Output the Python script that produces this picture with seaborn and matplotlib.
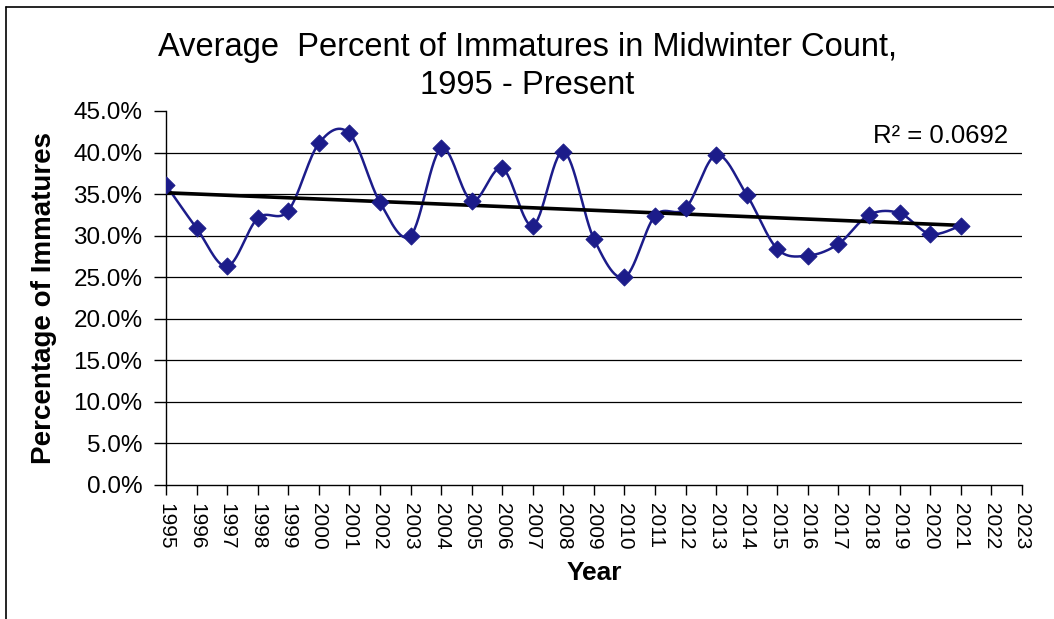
import numpy as np
import pandas as pd
import matplotlib
matplotlib.use("Agg")
import matplotlib.pyplot as plt
import seaborn as sns
from matplotlib.ticker import FuncFormatter, MultipleLocator

years = list(range(1995, 2022))
pct = [36.1, 30.9, 26.3, 32.1, 33.0, 41.1, 42.3, 34.0, 30.0, 40.5,
       34.2, 38.1, 31.2, 40.1, 29.6, 25.0, 32.4, 33.3, 39.7, 34.9,
       28.4, 27.6, 29.0, 32.5, 32.7, 30.2, 31.2]
xtick_years = list(range(1995, 2024))
title = "Average  Percent of Immatures in Midwinter Count,\n1995 - Present"
r2_label = "R\u00b2 = 0.0692"

sns.set_theme(style="white")
plt.rcParams['font.family'] = ['Liberation Sans', 'DejaVu Sans']
plt.rcParams['text.color'] = 'black'
plt.rcParams['axes.labelcolor'] = 'black'
plt.rcParams['xtick.color'] = 'black'
plt.rcParams['ytick.color'] = 'black'

fig = plt.figure(figsize=(10.54, 6.19), dpi=100)
ax = fig.add_axes([0.1575, 0.2165, 0.812, 0.6042])

# Smoothed curve (Excel-like Bezier through points)
def smooth(xs, ys, n=30):
    xs = np.asarray(xs, float); ys = np.asarray(ys, float)
    px, py = [], []
    for i in range(len(xs) - 1):
        x0, y0 = (xs[i-1], ys[i-1]) if i > 0 else (xs[i], ys[i])
        x1, y1 = xs[i], ys[i]
        x2, y2 = xs[i+1], ys[i+1]
        x3, y3 = (xs[i+2], ys[i+2]) if i + 2 < len(xs) else (xs[i+1], ys[i+1])
        c1x = x1 + (x2 - x0) / 6; c1y = y1 + (y2 - y0) / 6
        c2x = x2 - (x3 - x1) / 6; c2y = y2 - (y3 - y1) / 6
        t = np.linspace(0, 1, n, endpoint=(i == len(xs) - 2))
        px.extend((1-t)**3*x1 + 3*(1-t)**2*t*c1x + 3*(1-t)*t**2*c2x + t**3*x2)
        py.extend((1-t)**3*y1 + 3*(1-t)**2*t*c1y + 3*(1-t)*t**2*c2y + t**3*y2)
    return np.array(px), np.array(py)

for yv in range(5, 45, 5):
    ax.axhline(yv, color='black', lw=0.9, zorder=0)

sx, sy = smooth(years, pct)
curve = pd.DataFrame({"x": sx, "y": sy})
sns.lineplot(data=curve, x="x", y="y", ax=ax, color="#1c1c8a", lw=1.8,
             sort=False, estimator=None, zorder=2)
df = pd.DataFrame({"year": years, "pct": pct})
sns.scatterplot(data=df, x="year", y="pct", ax=ax, marker="D", s=75,
                color="#1c1c8a", edgecolor="#1c1c8a", zorder=4)
sns.regplot(data=df, x="year", y="pct", ax=ax, scatter=False, ci=None,
            truncate=True, line_kws=dict(color="black", lw=2.6, zorder=3))

ax.set_xlim(1995, 2023)
ax.set_ylim(0, 45)
ax.set_xticks(xtick_years)
ax.set_xticklabels([str(y) for y in xtick_years], rotation=270, fontsize=15)
ax.yaxis.set_major_locator(MultipleLocator(5))
ax.yaxis.set_major_formatter(FuncFormatter(lambda v, p: f"{v:.1f}%"))
ax.tick_params(axis='y', labelsize=17.5, direction='out', length=9, width=1,
               color='black', labelcolor='black', left=True, pad=8)
ax.tick_params(axis='x', direction='out', length=7, width=1, color='black',
               labelcolor='black', bottom=True, pad=6)
for s in ['top', 'right']:
    ax.spines[s].set_visible(False)
for s in ['left', 'bottom']:
    ax.spines[s].set_color('black')
    ax.spines[s].set_linewidth(1)

ax.set_xlabel("Year", fontsize=19, fontweight='bold', labelpad=8)
ax.set_ylabel("Percentage of Immatures", fontsize=20, fontweight='bold', labelpad=12)

ax.text(2022.55, 42.0, r2_label, fontsize=18.5, ha='right', va='center')
fig.text(0.5, 0.893, title, fontsize=23.5, ha='center', va='center', linespacing=1.3)

# figure border (top and left visible)
fig.add_artist(plt.Line2D([0.006, 1], [0.988, 0.988], color='black', lw=1.2, transform=fig.transFigure))
fig.add_artist(plt.Line2D([0.006, 0.006], [0, 0.988], color='black', lw=1.2, transform=fig.transFigure))

fig.savefig("out.png", dpi=100)
